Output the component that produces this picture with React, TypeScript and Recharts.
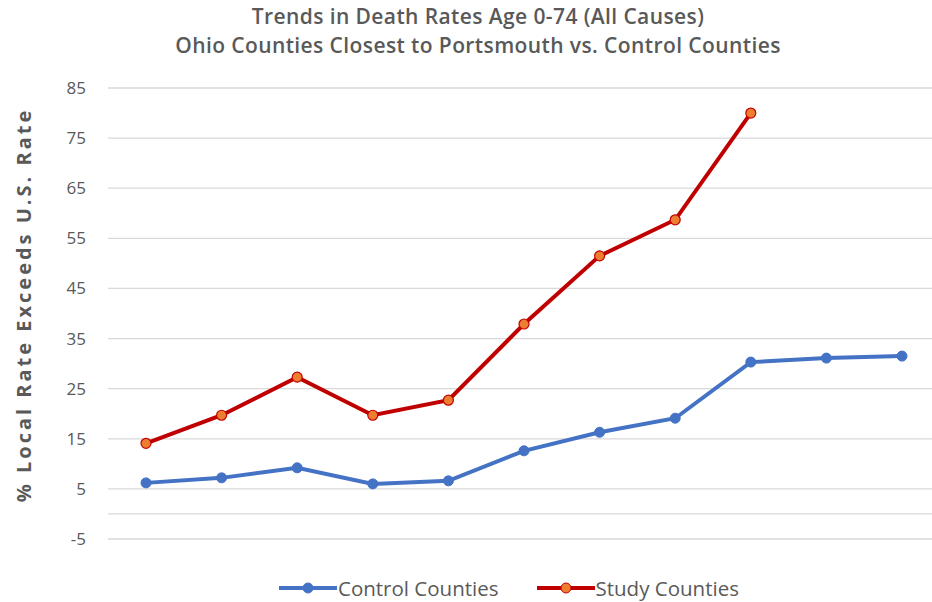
import { LineChart, Line, XAxis, YAxis, CartesianGrid, ReferenceLine } from "recharts"

const years = ["1", "2", "3", "4", "5", "6", "7", "8", "9", "10", "11"]
const controlCounties = [6.2, 7.2, 9.2, 6.0, 6.6, 12.6, 16.3, 19.1, 30.3, 31.1, 31.5]
const studyCounties = [14.1, 19.7, 27.3, 19.7, 22.7, 37.9, 51.5, 58.7, 80.0, null, null]
const yTicks = [-5, 5, 15, 25, 35, 45, 55, 65, 75, 85]

const BLUE = "#4472C4"
const RED = "#C00000"
const ORANGE = "#ED7D31"
const GREY = "#595959"
const FONT = "'Open Sans', sans-serif"

const data = years.map((year, i) => ({
  year,
  control: controlCounties[i],
  study: studyCounties[i],
}))

function YLabel() {
  return (
    <text
      x={23}
      y={305}
      transform="rotate(-90 23 305)"
      textAnchor="middle"
      dominantBaseline="central"
      fill={GREY}
      fontSize={20}
      fontWeight={700}
      letterSpacing={3}
      fontFamily={FONT}
    >
      % Local Rate Exceeds U.S. Rate
    </text>
  )
}

function LegendItem({ color, fill, label }: { color: string; fill: string; label: string }) {
  return (
    <div style={{ display: "flex", alignItems: "center", height: 22 }}>
      <svg width={58} height={14}>
        <line x1={0} y1={7} x2={58} y2={7} stroke={color} strokeWidth={4} />
        <circle cx={29} cy={7} r={5} fill={fill} stroke={color} strokeWidth={1} />
      </svg>
      <span style={{ fontSize: 20.5, lineHeight: "22px", color: GREY, marginLeft: 1 }}>{label}</span>
    </div>
  )
}

export default function App() {
  return (
    <div
      style={{
        position: "fixed",
        left: 0,
        top: 0,
        width: 932,
        height: 602,
        overflow: "hidden",
        background: "#fff",
        fontFamily: FONT,
      }}
    >
      {/* Title */}
      <div
        style={{
          position: "absolute",
          left: 0,
          width: 956,
          top: 2,
          textAlign: "center",
          color: GREY,
          fontSize: 21,
          fontWeight: 600,
          letterSpacing: 0.4,
          lineHeight: "29px",
        }}
      >
        <div>Trends in Death Rates Age 0-74 (All Causes)</div>
        <div>Ohio Counties Closest to Portsmouth vs. Control Counties</div>
      </div>

      <div style={{ position: "absolute", left: 0, top: 0 }}>
        <LineChart
          width={940}
          height={602}
          data={data}
          margin={{ top: 88, right: 0, left: 0, bottom: 63 }}
        >
          <CartesianGrid vertical={false} stroke="#d9d9d9" strokeWidth={1.3} />
          <ReferenceLine y={0} stroke="#d9d9d9" strokeWidth={1.3} />
          <XAxis dataKey="year" hide padding={{ left: 38, right: 38 }} />
          <YAxis
            width={108}
            domain={[-5, 85]}
            ticks={yTicks}
            interval={0}
            axisLine={false}
            tickLine={false}
            tickMargin={16}
            tick={{ fill: GREY, fontSize: 17, fontFamily: FONT }}
            label={<YLabel />}
          />
          <Line
            type="linear"
            dataKey="control"
            stroke={BLUE}
            strokeWidth={4}
            dot={{ r: 5, fill: BLUE, stroke: BLUE, strokeWidth: 1 }}
            isAnimationActive={false}
          />
          <Line
            type="linear"
            dataKey="study"
            stroke={RED}
            strokeWidth={4}
            dot={{ r: 5, fill: ORANGE, stroke: RED, strokeWidth: 1.2 }}
            isAnimationActive={false}
          />
        </LineChart>
      </div>

      {/* Legend */}
      <div
        style={{
          position: "absolute",
          top: 577,
          left: 279,
          display: "flex",
          gap: 38,
        }}
      >
        <LegendItem color={BLUE} fill={BLUE} label="Control Counties" />
        <LegendItem color={RED} fill={ORANGE} label="Study Counties" />
      </div>
    </div>
  )
}
